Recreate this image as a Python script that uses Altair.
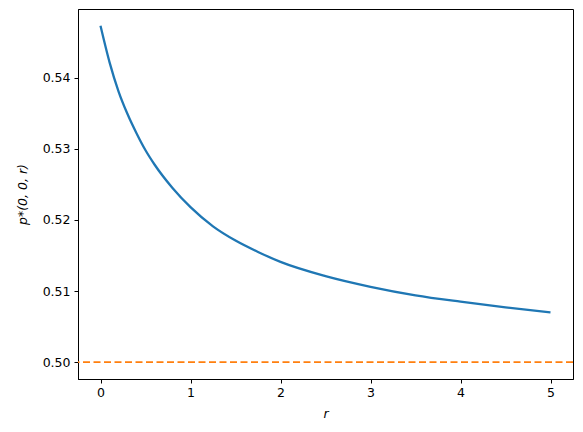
import altair as alt
import pandas as pd

r_values = [0.0, 0.1, 0.2, 0.3, 0.4, 0.5, 0.6, 0.8, 1.0, 1.25, 1.5, 1.75,
            2.0, 2.5, 3.0, 3.5, 4.0, 4.5, 5.0]
p_values = [0.5473, 0.5422, 0.5381, 0.5349, 0.5322, 0.5298, 0.5278, 0.5245,
            0.5218, 0.5191, 0.5171, 0.5155, 0.5141, 0.5121, 0.5106, 0.5094, 0.5085,
            0.5077, 0.5070]
baseline = [0.5]
x_ticks = [0, 1, 2, 3, 4, 5]
y_ticks = [0.50, 0.51, 0.52, 0.53, 0.54]

curve_df = pd.DataFrame({"r": r_values, "p": p_values})
base_df = pd.DataFrame({"p": baseline})

x_scale = alt.Scale(domain=[-0.25, 5.25], nice=False, zero=False)
y_scale = alt.Scale(domain=[0.49763, 0.54967], nice=False, zero=False)

axis_common = dict(
    grid=False,
    domainColor="black",
    domainWidth=1,
    tickColor="black",
    tickSize=4,
    tickWidth=1,
    labelFont="DejaVu Sans",
    labelFontSize=12.5,
    labelColor="black",
    titleFont="DejaVu Sans",
    titleFontSize=12.5,
    titleFontStyle="italic",
    titleFontWeight="normal",
    titleColor="black",
)

curve = alt.Chart(curve_df).mark_line(
    color="#1f77b4", strokeWidth=2.3, interpolate="monotone"
).encode(
    x=alt.X("r:Q", scale=x_scale,
            axis=alt.Axis(values=x_ticks, format="d", title="r",
                          labelPadding=3, titlePadding=9, **axis_common)),
    y=alt.Y("p:Q", scale=y_scale,
            axis=alt.Axis(values=y_ticks, format=".2f", title="p*(0, 0, r)",
                          labelPadding=4, titlePadding=13, **axis_common)),
)

rule = alt.Chart(base_df).mark_rule(
    color="#ff7f0e", strokeWidth=1.9, strokeDash=[7, 3.5]
).encode(y=alt.Y("p:Q", scale=y_scale))

chart = alt.layer(curve, rule).properties(
    width=495,
    height=370,
    autosize=alt.AutoSizeParams(type="none"),
    padding={"left": 70, "top": 1, "right": 2, "bottom": 45},
).configure_view(stroke="black", strokeWidth=1)

chart.save("out.html", embed_options={"renderer": "svg", "actions": False})
